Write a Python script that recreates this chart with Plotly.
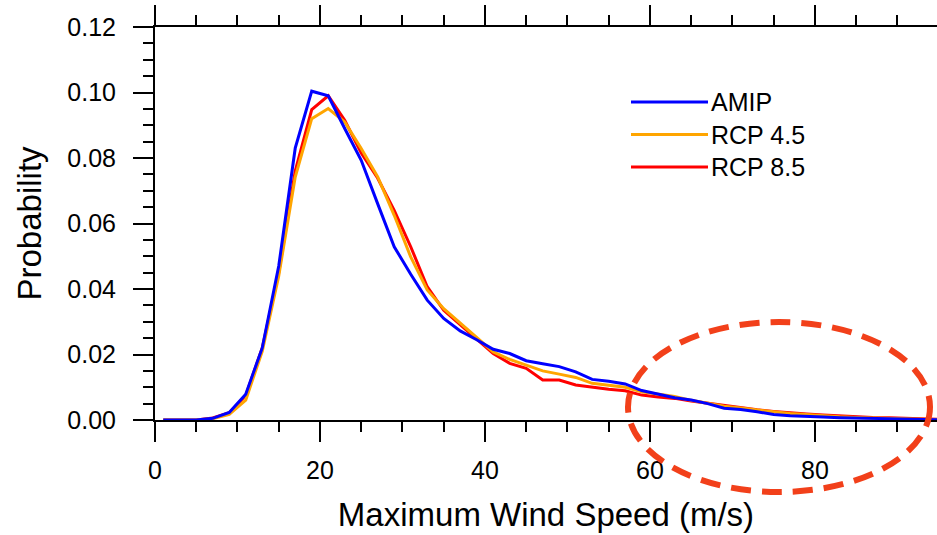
import plotly.graph_objects as go

# Wind-speed bin centres (m/s)
wind_speed = list(range(1, 96, 2))

# Probability of maximum wind speed per bin
amip = [0, 0, 0, 0.0005, 0.0023, 0.0079, 0.022, 0.047, 0.083, 0.1004,
        0.099, 0.089, 0.0793, 0.066, 0.0529, 0.0445, 0.0366, 0.031, 0.0272, 0.0245,
        0.0216, 0.0203, 0.0181, 0.0172, 0.0163, 0.0147, 0.0124, 0.0118, 0.0110, 0.0090,
        0.0078, 0.0068, 0.0061, 0.0050, 0.0036, 0.0032, 0.0025, 0.0017, 0.0013, 0.0010,
        0.0009, 0.0007, 0.0006, 0.0005, 0.0004, 0.0003, 0.0002, 0.0001]
rcp45 = [0, 0, 0, 0.0004, 0.0017, 0.0061, 0.021, 0.044, 0.0742, 0.092,
         0.0951, 0.091, 0.0829, 0.0742, 0.0625, 0.0498, 0.0397, 0.034, 0.0295, 0.025,
         0.0208, 0.0185, 0.0168, 0.0150, 0.0140, 0.0130, 0.0112, 0.0105, 0.0100, 0.0086,
         0.0080, 0.0072, 0.0060, 0.0052, 0.0042, 0.0037, 0.0030, 0.0025, 0.0020, 0.0016,
         0.0013, 0.0010, 0.0008, 0.0006, 0.0005, 0.0003, 0.0002, 0.0001]
rcp85 = [0, 0, 0, 0.0006, 0.0022, 0.0075, 0.022, 0.045, 0.076, 0.0948,
         0.099, 0.0915, 0.0815, 0.0738, 0.064, 0.0529, 0.0407, 0.0335, 0.029, 0.0245,
         0.0203, 0.0173, 0.0158, 0.0122, 0.0122, 0.0107, 0.0100, 0.0094, 0.0089, 0.0076,
         0.0070, 0.0066, 0.0058, 0.0051, 0.0043, 0.0037, 0.0031, 0.0026, 0.0021, 0.0018,
         0.0015, 0.0012, 0.0010, 0.0008, 0.0007, 0.0005, 0.0003, 0.0002]

series_names = ["AMIP", "RCP 4.5", "RCP 8.5"]
series_values = [amip, rcp45, rcp85]
series_colors = ["#0000FF", "#FFA500", "#FF0000"]

x_tick_values = [0, 20, 40, 60, 80]
y_tick_values = [0.00, 0.02, 0.04, 0.06, 0.08, 0.10, 0.12]

FONT = "Liberation Sans, Arial, Helvetica, sans-serif"

fig = go.Figure()

# Draw order: RCP 8.5, RCP 4.5, then AMIP on top
for idx in [2, 1, 0]:
    fig.add_trace(go.Scatter(
        x=wind_speed, y=series_values[idx], mode="lines",
        name=series_names[idx],
        line=dict(color=series_colors[idx], width=3),
        showlegend=False,
    ))

# Invisible companion trace so the top (mirrored) x axis is rendered
fig.add_trace(go.Scatter(
    x=wind_speed, y=amip, xaxis="x2", mode="lines",
    line=dict(width=0), opacity=0, hoverinfo="skip", showlegend=False,
))

tick_common = dict(
    showline=True, linecolor="black", linewidth=2,
    ticks="outside", ticklen=20, tickwidth=2, tickcolor="black",
    showgrid=False, zeroline=False,
)
minor_x = dict(dtick=5, ticks="outside", ticklen=10, tickwidth=1.5, tickcolor="black", showgrid=False)

fig.update_layout(
    width=937, height=535,
    margin=dict(l=155, r=0, t=27, b=115),
    paper_bgcolor="white", plot_bgcolor="white",
    font=dict(family=FONT, color="black"),
    xaxis=dict(
        range=[0, 94.8], tickvals=x_tick_values,
        tickfont=dict(size=25), ticklabelstandoff=7,
        title=dict(text="Maximum Wind Speed (m/s)", font=dict(size=33), standoff=20),
        minor=minor_x, **tick_common,
    ),
    xaxis2=dict(
        overlaying="x", matches="x", side="top", anchor="y",
        range=[0, 94.8], tickvals=x_tick_values, showticklabels=False,
        minor=minor_x, **tick_common,
    ),
    yaxis=dict(
        range=[0, 0.12], tickvals=y_tick_values, tickformat=".2f",
        tickfont=dict(size=25), ticklabelstandoff=12,
        title=dict(text="Probability", font=dict(size=33), standoff=16),
        minor=dict(dtick=0.005, ticks="outside", ticklen=10, tickwidth=1.5,
                   tickcolor="black", showgrid=False),
        **tick_common,
    ),
)

# Legend drawn as line samples with labels inside the plot
plot_l, plot_r, plot_t, plot_b = 155, 937, 27, 420


def px_to_paper(px, py):
    return (px - plot_l) / (plot_r - plot_l), (plot_b - py) / (plot_b - plot_t)


legend_rows = [102, 134.5, 167]
for name, color, row in zip(series_names, series_colors, legend_rows):
    x0, y0 = px_to_paper(631, row)
    x1, _ = px_to_paper(708, row)
    fig.add_shape(type="line", xref="paper", yref="paper",
                  x0=x0, x1=x1, y0=y0, y1=y0,
                  line=dict(color=color, width=3))
    tx, _ = px_to_paper(709, row)
    fig.add_annotation(text=name, xref="paper", yref="paper",
                       x=tx, y=y0, xanchor="left", yanchor="middle",
                       showarrow=False, font=dict(size=25, family=FONT, color="black"))

# Dashed ellipse highlighting the high-wind tail
ex0, ey0 = px_to_paper(628, 492)
ex1, ey1 = px_to_paper(930, 322)
fig.add_shape(type="circle", xref="paper", yref="paper",
              x0=ex0, x1=ex1, y0=ey0, y1=ey1, layer="above",
              line=dict(color="#F2401A", width=6, dash="20px,11px"))

fig.write_html("out.html")
